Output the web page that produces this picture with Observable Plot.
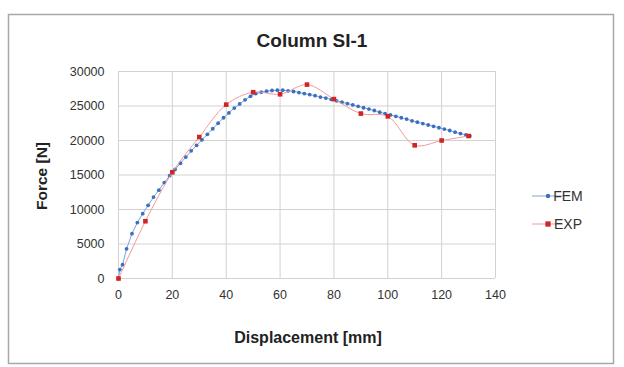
<!DOCTYPE html>
<html><head><meta charset="utf-8">
<script src="https://cdn.jsdelivr.net/npm/d3@7"></script>
<script src="https://cdn.jsdelivr.net/npm/@observablehq/plot@0.6"></script>
<style>
body{margin:0;background:#fff;font-family:"Liberation Sans",Arial,sans-serif;}
#wrap{position:relative;width:624px;height:367px;overflow:hidden;}
</style></head><body><div id="wrap"></div>
<script>
const femX = [0,0.5,1.5,3,5,7,9,11,13,15,17,19,21,23,25,27,29,31,33,35,37,39,41,43,45,47,49,51,53,55,57,59,61,63,65,67,69,71,73,75,77,79,81,83,85,87,89,91,93,95,97,99,101,103,105,107,109,111,113,115,117,119,121,123,125,127,129,130.5];
const femY = [0,1300,2000,4300,6500,8100,9400,10600,11800,12800,13900,14900,15800,16700,17600,18500,19300,20100,20900,21700,22500,23300,24000,24700,25300,25900,26400,26800,27000,27150,27250,27300,27300,27200,27100,26950,26800,26650,26500,26300,26150,25950,25750,25550,25350,25150,24950,24750,24550,24350,24100,23900,23700,23500,23300,23100,22850,22650,22450,22250,22050,21850,21650,21450,21200,21000,20800,20650];
const expX = [0,10,20,30,40,50,60,70,80,90,100,110,120,130];
const expY = [0,8300,15400,20500,25200,27000,26700,28100,26000,23900,23500,19300,20000,20650];
const xTicks = [0,20,40,60,80,100,120,140];
const yTicks = [0,5000,10000,15000,20000,25000,30000];
const seriesNames = ["FEM","EXP"];
const seriesColors = ["#3b6fbf","#d02525"];
const lineColors = ["#7da4db","#f29a9a"];
const titleText = "Column SI-1";
const xLabel = "Displacement [mm]";
const yLabel = "Force [N]";

const fem = femX.map((x,i)=>({x, y: femY[i]}));
const expd = expX.map((x,i)=>({x, y: expY[i]}));
const font = "'Liberation Sans', Arial, sans-serif";

const chart = Plot.plot({
  width: 624, height: 367,
  marginLeft: 118, marginRight: 129, marginTop: 71, marginBottom: 89,
  style: {fontFamily: font, fontSize: "12px", color: "#333", background: "transparent", overflow: "visible"},
  x: {domain: [0, 140]},
  y: {domain: [0, 30000]},
  marks: [
    Plot.gridX(xTicks, {stroke: "#d2d2d2", strokeOpacity: 1, strokeWidth: 1}),
    Plot.gridY(yTicks, {stroke: "#d2d2d2", strokeOpacity: 1, strokeWidth: 1}),
    Plot.axisX(xTicks, {tickSize: 0, tickPadding: 12, label: null, fill: "#333", fontSize: 12.5}),
    Plot.axisY(yTicks, {tickSize: 0, tickPadding: 14, label: null, fill: "#333", fontSize: 12.5, tickFormat: d => String(d)}),
    Plot.line(fem, {x: "x", y: "y", stroke: lineColors[0], strokeWidth: 1}),
    Plot.dot(fem, {x: "x", y: "y", r: 1.9, fill: seriesColors[0]}),
    Plot.line(expd, {x: "x", y: "y", stroke: lineColors[1], strokeWidth: 1, curve: "catmull-rom"}),
    Plot.dot(expd, {x: "x", y: "y", symbol: "square", r: 2.6, fill: seriesColors[1]})
  ]
});

const svg = d3.select(chart);
svg.insert("rect", ":first-child")
  .attr("x", 8.5).attr("y", 14.5).attr("width", 605).attr("height", 349)
  .attr("fill", "#fff").attr("stroke", "#a8a8a8").attr("stroke-width", 1.5);
svg.append("text").text(titleText)
  .attr("x", 312).attr("y", 47).attr("text-anchor", "middle")
  .attr("font-family", font).attr("font-size", 19).attr("font-weight", "bold").attr("fill", "#222");
svg.append("text").text(xLabel)
  .attr("x", 308).attr("y", 343).attr("text-anchor", "middle")
  .attr("font-family", font).attr("font-size", 16).attr("font-weight", "bold").attr("fill", "#222");
svg.append("text").text(yLabel)
  .attr("transform", "translate(47,176) rotate(-90)").attr("text-anchor", "middle")
  .attr("font-family", font).attr("font-size", 15.5).attr("font-weight", "bold").attr("fill", "#222");

const leg = svg.append("g");
seriesNames.forEach((name, i) => {
  const y = 196 + i * 28;
  leg.append("line").attr("x1", 532).attr("x2", 563).attr("y1", y).attr("y2", y)
    .attr("stroke", lineColors[i]).attr("stroke-width", 1);
  if (i === 0) {
    leg.append("circle").attr("cx", 548).attr("cy", y).attr("r", 2.2).attr("fill", seriesColors[i]);
  } else {
    leg.append("path").attr("d", d3.symbol(d3.symbolSquare, 28)()).attr("transform", `translate(548,${y})`).attr("fill", seriesColors[i]);
  }
  leg.append("text").text(name).attr("x", 568).attr("y", y).attr("dy", "0.35em")
    .attr("font-family", font).attr("font-size", 14).attr("fill", "#333");
});

document.getElementById("wrap").appendChild(chart);
</script></body></html>
